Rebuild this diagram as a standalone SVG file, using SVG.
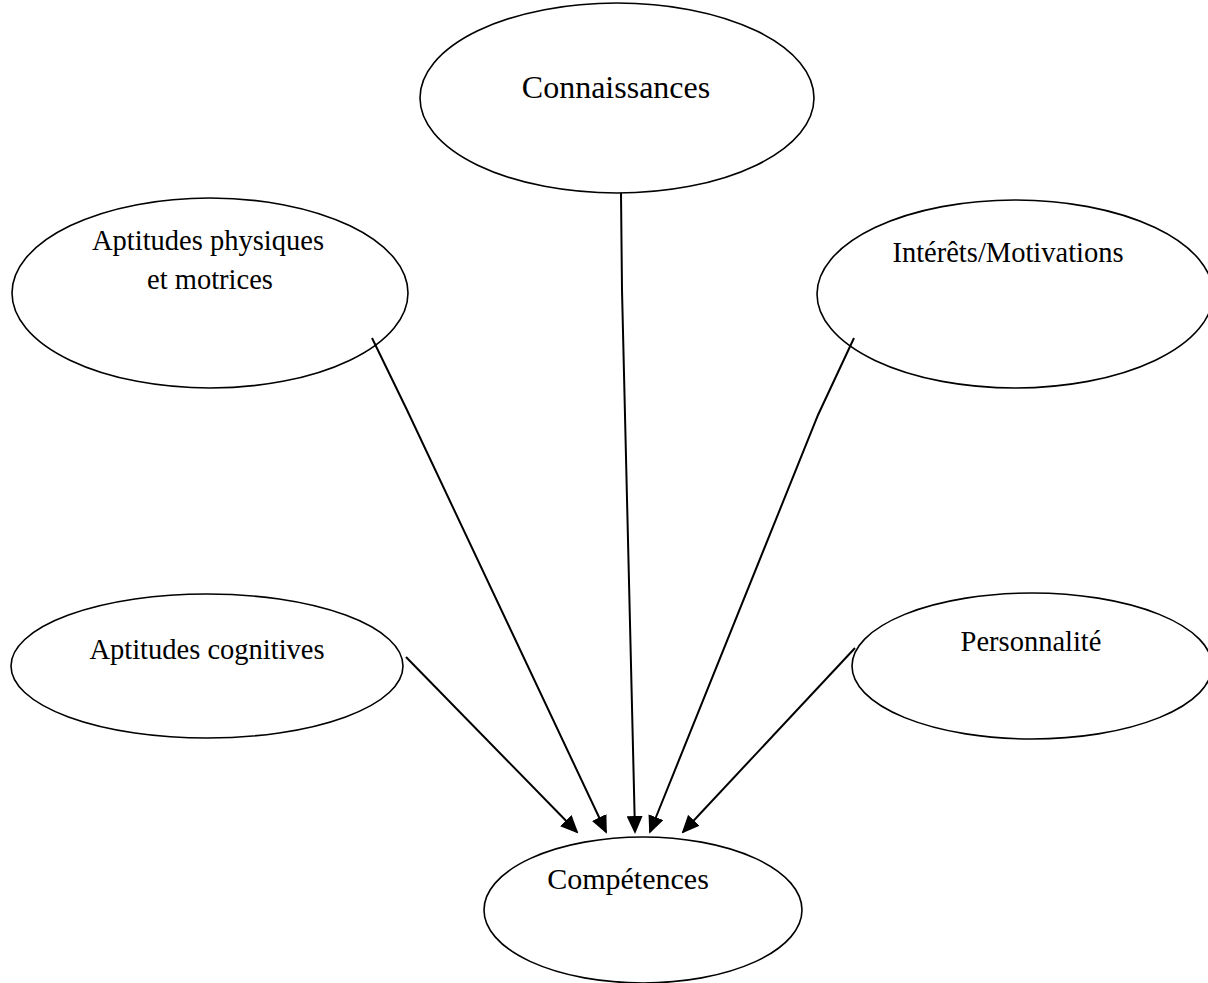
<svg xmlns="http://www.w3.org/2000/svg" width="1208" height="983" viewBox="0 0 1208 983">
<style>
.n{fill:#fff;stroke:#000;stroke-width:1.6}
.t{font-family:"Liberation Serif","Times New Roman",serif;fill:#000;text-anchor:middle}
.c{fill:none;stroke:#000;stroke-width:2;marker-end:url(#ah)}
</style>
<defs>
<marker id="ah" markerWidth="9" markerHeight="8" refX="8" refY="4" orient="auto" markerUnits="strokeWidth">
<path d="M0,0 L9,4 L0,8 Z" fill="#000"/>
</marker>
</defs>
<rect width="1208" height="983" fill="#fff"/>
<g id="connaissances"><ellipse class="n" cx="617" cy="98" rx="197" ry="95"/><text class="t" x="616" y="98" font-size="32">Connaissances</text></g>
<g id="aptitudes-physiques"><ellipse class="n" cx="210" cy="293" rx="198" ry="95"/><text class="t" x="208" y="250" font-size="28.5">Aptitudes physiques</text><text class="t" x="210" y="289" font-size="28.5">et motrices</text></g>
<g id="interets"><ellipse class="n" cx="1015" cy="294" rx="198" ry="94"/><text class="t" x="1008" y="262" font-size="28.5">Intérêts/Motivations</text></g>
<g id="aptitudes-cognitives"><ellipse class="n" cx="207" cy="666" rx="196" ry="72"/><text class="t" x="207" y="659" font-size="28.5">Aptitudes cognitives</text></g>
<g id="personnalite"><ellipse class="n" cx="1032" cy="666" rx="180" ry="73"/><text class="t" x="1031" y="651" font-size="28.5">Personnalité</text></g>
<g id="competences"><ellipse class="n" cx="643" cy="910" rx="159" ry="73"/><text class="t" x="628" y="889" font-size="30">Compétences</text></g>
<g id="connectors">
<polyline class="c" points="372,338 407,410 606,832"/>
<polyline class="c" points="621,193 622,290 635,832"/>
<polyline class="c" points="854,338 818,415 650,832"/>
<line class="c" x1="406" y1="657" x2="577" y2="832"/>
<line class="c" x1="855" y1="648" x2="683" y2="832"/>
</g>
</svg>
